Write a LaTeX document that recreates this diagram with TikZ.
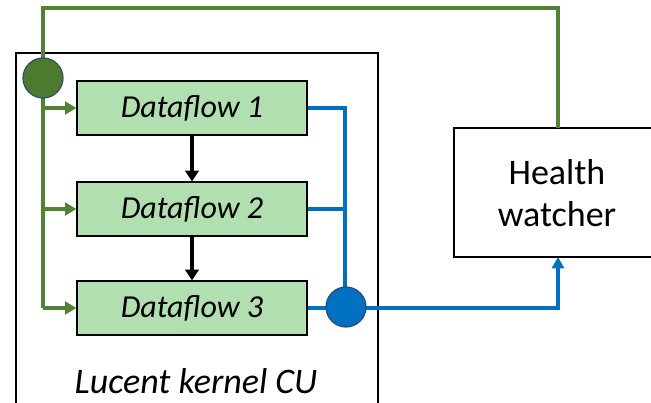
\documentclass[tikz,border=0pt]{standalone}
\usepackage{fontspec}
\setmainfont{Carlito}
\usetikzlibrary{arrows.meta}
\definecolor{lgreen}{HTML}{548235}
\definecolor{dgreen}{HTML}{4E7A30}
\definecolor{boxgreen}{HTML}{B2DFB0}
\definecolor{lblue}{HTML}{0070C0}
\definecolor{edgeblue}{HTML}{2F4A6F}
\tikzset{
  dfbox/.style={draw=black, line width=0.9pt, fill=boxgreen, minimum width=230*0.75pt, minimum height=54*0.75pt, inner sep=0pt, font=\fontsize{24}{28}\selectfont\itshape},
  gline/.style={draw=lgreen, line width=2.4pt},
  bline/.style={draw=lblue, line width=2.4pt},
  garrow/.style={gline, -{Triangle[length=8.5pt,width=9.5pt]}},
  barrow/.style={bline, -{Triangle[length=8.5pt,width=9pt]}},
  karrow/.style={draw=black, line width=2.8pt, -{Triangle[length=8pt,width=10pt]}},
  junction/.style={circle, draw=edgeblue, line width=0.9pt, minimum size=40*0.75pt, inner sep=0pt},
}
\begin{document}
\begin{tikzpicture}[x=0.75pt, y=-0.75pt]
\useasboundingbox (0,0) rectangle (651,403);
\begin{scope}
\clip (0,0) rectangle (651,403);
% CU box (bottom cut off)
\draw[line width=1.6pt] (16,420) -- (16,53) -- (378,53) -- (378,420);
% Health watcher box (right cut off)
\draw[line width=1.6pt] (660,128) -- (454,128) -- (454,257) -- (660,257);
\end{scope}
\coordinate (hwtop) at (558,128);
\coordinate (hwbot) at (558,257);
\node[font=\fontsize{27}{32}\selectfont, align=center] (hw) at (557,193) {Health\\watcher};

\node[dfbox] (df1) at (192,108) {Dataflow 1};
\node[dfbox] (df2) at (192,209) {Dataflow 2};
\node[dfbox] (df3) at (192,308) {Dataflow 3};
\node[font=\fontsize{27}{32}\selectfont\itshape] (cu) at (196,381) {Lucent kernel CU};

\draw[karrow] (df1) -- (df2);
\draw[karrow] (df2) -- (df3);

% green
\coordinate (gtop) at (43,8);
\coordinate (gbot) at (43,308);
\draw[gline] (hwtop) -- (558,8) -- (gtop) -- (gbot);
\draw[garrow] (43,108) -- (df1.west);
\draw[garrow] (43,209) -- (df2.west);
\draw[garrow] (gbot) -- (df3.west);
\node[junction, fill=dgreen] (gj) at (43,78) {};

% blue
\coordinate (bv) at (345,108);
\draw[bline] (df1.east) -- (bv) -- (345,306);
\draw[bline] (df2.east) -- (345,209);
\draw[bline] (df3.east) -- (345,308);
\draw[barrow] (345,308) -- (558,308) -- (hwbot);
\node[junction, fill=lblue] (bj) at (346,307) {};
\end{tikzpicture}
\end{document}
